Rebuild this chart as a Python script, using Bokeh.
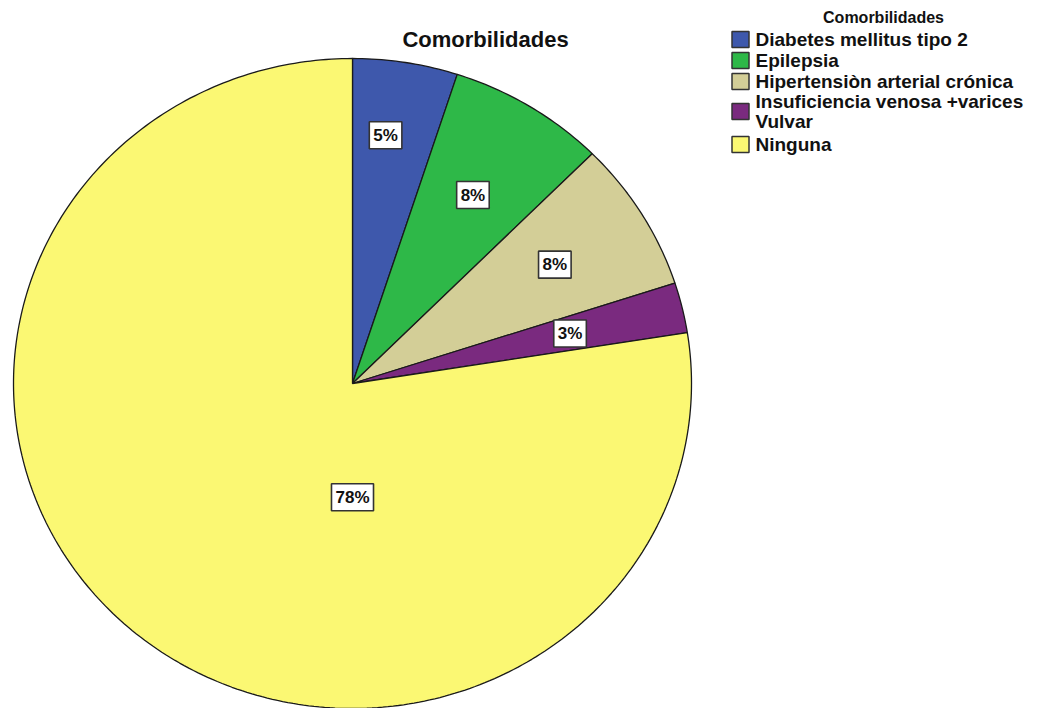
import numpy as np
from bokeh.plotting import figure
from bokeh.models import Range1d
from bokeh.embed import file_html
from bokeh.resources import INLINE
from bokeh.core.properties import value

# ---- data ----
categories = ["Diabetes mellitus tipo 2", "Epilepsia", "Hipertensiòn arterial crónica",
              "Insuficiencia venosa +varices Vulvar", "Ninguna"]
legend_labels = ["Diabetes mellitus tipo 2", "Epilepsia", "Hipertensiòn arterial crónica",
                 "Insuficiencia venosa +varices\nVulvar", "Ninguna"]
counts = [2, 3, 3, 1, 31]
colors = ["#3E58AC", "#2EB848", "#D3CE97", "#7A2A7F", "#FBF873"]
chart_title = "Comorbilidades"
legend_title = "Comorbilidades"

# ---- layout constants (pixels) ----
W, H = 1040, 708
CX, CY = 352, 383
RX, RY = 339, 325
label_r = [0.77, 0.68, 0.70, 0.66, 0.35]
label_shift = [-0.03, 0.0, 0.0, 0.0, 0.0]
FONT = value("Liberation Sans")

p = figure(width=W, height=H, x_range=Range1d(0, W), y_range=Range1d(H, 0),
           output_backend="svg", toolbar_location=None, min_border=0,
           x_axis_location=None, y_axis_location=None)
p.xgrid.visible = False
p.ygrid.visible = False
p.outline_line_color = None
p.background_fill_color = "white"
p.border_fill_color = "white"

total = float(sum(counts))
fracs = [c / total for c in counts]
cum = np.concatenate([[0.0], np.cumsum(fracs)])

xs, ys, lx, ly, ltxt = [], [], [], [], []
for i, f in enumerate(fracs):
    a0, a1 = 2 * np.pi * cum[i], 2 * np.pi * cum[i + 1]
    n = max(3, int(400 * f) + 3)
    t = np.linspace(a0, a1, n)
    xs.append([CX] + list(CX + RX * np.sin(t)))
    ys.append([CY] + list(CY - RY * np.cos(t)))
    mid = ((a0 + a1) / 2 if f < 0.5 else np.pi) + label_shift[i]
    lx.append(CX + label_r[i] * RX * np.sin(mid))
    ly.append(CY - label_r[i] * RY * np.cos(mid))
    ltxt.append(f"{int(100 * f + 0.5)}%")

p.patches(xs=xs, ys=ys, fill_color=colors, line_color="#1a1a1a", line_width=1.3)

p.text(x=lx, y=ly, text=ltxt, text_align="center", text_baseline="middle",
       text_font=FONT, text_font_style="bold", text_font_size="17px", text_color="#111111",
       background_fill_color="white", border_line_color="#333333", border_line_width=1.6,
       padding=4)

# title
p.text(x=[485], y=[39], text=[chart_title], text_align="center", text_baseline="middle",
       text_font=FONT, text_font_style="bold", text_font_size="22px", text_color="#111111")

# legend
p.text(x=[883], y=[17], text=[legend_title], text_align="center", text_baseline="middle",
       text_font=FONT, text_font_style="bold", text_font_size="16px", text_color="#111111")
row_y = []
y = 39
for lab in legend_labels:
    nl = lab.count("\n") + 1
    row_y.append(y + (nl - 1) * 9)
    y += 21 + (nl - 1) * 18 + (3 if nl > 1 else 0)
p.rect(x=[740] * len(colors), y=row_y, width=17, height=16, width_units="screen",
       height_units="screen", fill_color=colors, line_color="#333333", line_width=1.5)
p.text(x=[755] * len(colors), y=row_y, text=legend_labels, text_align="left",
       text_baseline="middle", text_font=FONT, text_font_style="bold",
       text_font_size="19px", text_color="#111111", text_line_height=0.95)

open("out.html", "w").write(file_html(p, INLINE))
